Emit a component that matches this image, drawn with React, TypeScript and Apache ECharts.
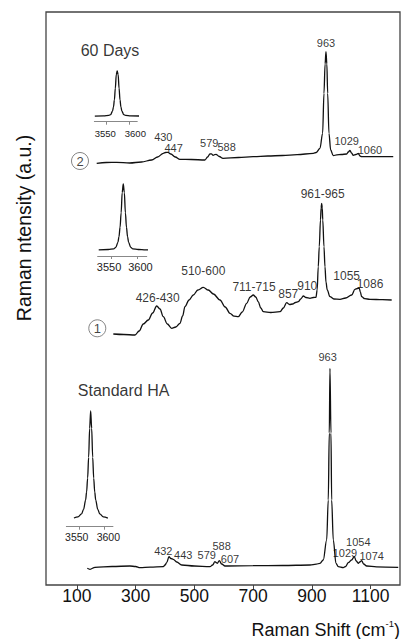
import React, { useEffect, useRef } from "react";
import * as echarts from "echarts";

// Raman shift (cm-1) as drawn, intensity in arbitrary units (trace offsets included)
const TRACE_60D: [number, number][] = [
  [167.6, 421.7], [200, 422.5], [235.6, 422.7], [280, 422], [320, 423], [354.8, 425], [375, 428],
  [394.3, 431.7], [402, 432.5], [410.3, 432.7], [420, 431], [435, 428], [451, 425.7], [490, 425.5],
  [536, 425], [545, 428], [553, 431], [558, 431.2], [564, 429.7], [569, 430.3], [573.6, 430.7],
  [585, 428.5], [597.5, 426.7], [650, 427.5], [700, 428.3], [750, 429], [800, 429.5], [850, 430.3],
  [905, 431.7], [915, 432.5], [927.6, 436.7], [936.6, 451.7], [941.2, 491.7], [945, 521], [948, 533.3],
  [951, 521], [953.8, 491.7], [958.2, 451.7], [964, 435], [972.9, 429.3], [985, 430.2], [1000, 430.5],
  [1018.5, 431], [1024, 433], [1029.7, 434.5], [1035, 432], [1041, 429.7], [1050, 430.5], [1058, 431.5],
  [1064, 429], [1069.5, 428.3], [1120, 428.3], [1177, 428.3],
];

const TRACE_1: [number, number][] = [
  [224.1, 251], [260, 250.5], [297.9, 250], [312, 254], [326.2, 261], [343.2, 265], [358, 272],
  [371.8, 279], [383, 276], [394.3, 268.3], [408, 261], [422.8, 256.7], [437, 258], [451, 261.7],
  [460, 269], [468, 278.3], [482, 285], [496.4, 290], [512, 295], [530.4, 297.7], [547.4, 295],
  [565, 291], [587.2, 285], [605, 278], [621.3, 271.7], [635, 268.8], [649.5, 268.3], [663, 273],
  [678.1, 281.7], [690, 288], [700.6, 290], [709, 288], [717.6, 283.3], [726, 277], [734.6, 273.3],
  [760, 272.5], [791.5, 273.3], [803, 277], [814.3, 282.3], [824, 280.5], [834.7, 281], [844, 282.5],
  [853.8, 283.3], [862, 286], [870.8, 289], [880, 287.5], [893.6, 286.7], [905, 287.5], [914, 287.7],
  [918, 295], [921.8, 318.3], [925.2, 338.3], [929.3, 365], [931.5, 377], [933.4, 381.7], [935.3, 377],
  [937.1, 365], [941.2, 338.3], [944.6, 318.3], [948, 303], [952.4, 295], [961.6, 288.3], [975, 286],
  [995.7, 285.7], [1015, 287], [1035.5, 290], [1046.7, 295.7], [1055, 296.5], [1061.4, 296.7],
  [1065, 293], [1069.5, 288.3], [1080, 286.3], [1097.8, 285.7], [1140, 285.3], [1171.7, 285],
];

const TRACE_STD: [number, number][] = [
  [135.6, 16.7], [144.8, 15.7], [161.8, 17.7], [220, 18.5], [280.9, 19], [300, 18.5], [314.9, 17.3],
  [350, 17.8], [394.3, 18.3], [400, 20], [405.8, 22.3], [413.7, 28.3], [420, 26.5], [428.3, 25.7],
  [440, 23], [456.9, 20], [500, 19], [553.2, 18.3], [562, 20], [570.2, 23.3], [574, 22.5], [578, 21.7],
  [584.9, 24.3], [593, 21], [604.3, 19], [700, 19.3], [800, 19.5], [893.6, 20], [915, 20.8],
  [927.6, 21.7], [938.8, 25], [950.4, 45], [955.8, 85], [959.3, 152], [961.6, 216.7], [965, 152],
  [967.4, 85], [972.9, 45], [982.1, 21.7], [990, 18.3], [1007, 17.3], [1015, 18.5], [1024, 22.3],
  [1035, 25], [1044.4, 28.3], [1051, 24], [1058, 21.7], [1063, 23], [1069.5, 24.3], [1076, 21],
  [1086.6, 19], [1120, 18.2], [1194, 17.7],
];

// OH stretch insets (3550-3600 cm-1)
const INSET_60D: [number, number][] = [
  [3526, 0.11], [3545, 0.115], [3556, 0.125], [3560, 0.14], [3564, 0.21], [3566, 0.29], [3568, 0.43],
  [3570, 0.66], [3572, 0.93], [3574, 1.0], [3576, 0.93], [3578, 0.66], [3580, 0.43], [3582, 0.29],
  [3584, 0.21], [3588, 0.14], [3592, 0.125], [3603, 0.115], [3629, 0.11],
];
const INSET_1: [number, number][] = [
  [3527, 0.085], [3545, 0.09], [3555, 0.1], [3559, 0.12], [3563, 0.19], [3565, 0.27], [3567, 0.4],
  [3569, 0.6], [3571, 0.88], [3573, 1.0], [3575, 0.88], [3577, 0.6], [3579, 0.4], [3581, 0.27],
  [3583, 0.19], [3587, 0.12], [3591, 0.1], [3601, 0.09], [3615, 0.085], [3627, 0.085],
];
const INSET_STD: [number, number][] = [
  [3540, 0.075], [3548, 0.085], [3555, 0.11], [3559, 0.15], [3563, 0.23], [3565, 0.3], [3567, 0.42],
  [3569, 0.6], [3571, 0.85], [3573, 1.0], [3575, 0.85], [3577, 0.6], [3579, 0.42], [3581, 0.3],
  [3583, 0.23], [3587, 0.15], [3591, 0.11], [3598, 0.085], [3607, 0.075],
];

const X_TICKS = [100, 300, 500, 700, 900, 1100];
const INSET_TICKS = [3550, 3600];

// peak labels [x, y, text]
const LABELS_60D: [number, number, string][] = [
  [948, 542.3, "963"], [394.3, 448.5, "430"], [429.5, 437, "447"], [550.8, 441.7, "579"],
  [610, 438.3, "588"], [1018.5, 444, "1029"], [1097.8, 435, "1060"],
];
const LABELS_1: [number, number, string][] = [
  [375.2, 287.3, "426-430"], [530.4, 314, "510-600"], [703, 298.3, "711-715"], [819.7, 290.7, "857"],
  [884.4, 299, "910"], [936.8, 391, "961-965"], [1018.5, 309, "1055"], [1097.8, 300.7, "1086"],
];
const LABELS_STD: [number, number, string][] = [
  [953.8, 228.3, "963"], [394.3, 34.3, "432"], [462.3, 30, "443"], [542, 30, "579"], [593, 39, "588"],
  [621.3, 25.7, "607"], [1012.7, 32.3, "1029"], [1058, 43.3, "1054"], [1103.6, 29, "1074"],
];
const TITLES: [number, number, string][] = [
  [212.8, 535, "60 Days"], [259.1, 195, "Standard HA"],
];
const SAMPLE_MARKS: [number, number, string][] = [
  [110.7, 424, "2"], [169.6, 256.7, "1"],
];

const FONT = "'Liberation Sans', Arial, sans-serif";

function labelSeries(data: [number, number, string][], size: number) {
  return {
    type: "scatter",
    xAxisIndex: 0,
    yAxisIndex: 0,
    symbolSize: 0,
    silent: true,
    data,
    label: {
      show: true,
      position: "inside",
      formatter: (p: any) => p.value[2],
      fontSize: size,
      fontFamily: FONT,
      color: "#000",
      textBorderWidth: 0,
      textBorderColor: "transparent",
    },
    z: 5,
  };
}

// label placement in the insets is slightly spread from the tick marks, as in the figure
function insetAxis(grid: number, size: number, margin: number, labelShift: [number, number]) {
  return {
    type: "value",
    gridIndex: grid,
    min: 3525,
    max: 3617,
    axisLine: { show: true, lineStyle: { color: "#888", width: 1 } },
    axisTick: { show: true, customValues: INSET_TICKS, length: 3, lineStyle: { color: "#888" } },
    axisLabel: {
      show: true,
      customValues: INSET_TICKS.map((t, i) => t + labelShift[i]),
      formatter: (v: number) => String(v < 3575 ? INSET_TICKS[0] : INSET_TICKS[1]),
      hideOverlap: false,
      fontSize: size,
      fontFamily: FONT,
      color: "#222",
      margin,
    },
    splitLine: { show: false },
  };
}

export default function App() {
  const ref = useRef<HTMLDivElement>(null);
  useEffect(() => {
    if (!ref.current) return;
    const chart = echarts.init(ref.current, null, { renderer: "svg" });
    const lineStyle = { color: "#111", width: 1.3 };
    const traceBase = { type: "line", showSymbol: false, lineStyle, silent: true, smooth: 0.35, smoothMonotone: "x" };
    chart.setOption({
      animation: false,
      backgroundColor: "#fff",
      grid: [
        { left: 46, top: 12, width: 354, height: 573, show: true, borderColor: "#444", borderWidth: 1.3, backgroundColor: "transparent" },
        { left: 94.35, top: 71, width: 42.9, height: 50.7 },
        { left: 97.65, top: 184, width: 49.1, height: 72 },
        { left: 66.35, top: 411, width: 46.6, height: 115.7 },
      ],
      xAxis: [
        {
          type: "value",
          gridIndex: 0,
          min: -5,
          max: 1200,
          axisLine: { show: false },
          axisTick: { show: true, customValues: X_TICKS, length: 4, lineStyle: { color: "#444", width: 1 } },
          axisLabel: {
            show: true,
            customValues: X_TICKS,
            formatter: (v: number) => String(v),
            hideOverlap: false,
            fontSize: 17.5,
            fontFamily: FONT,
            color: "#111",
            margin: 2,
          },
          splitLine: { show: false },
        },
        insetAxis(1, 9.5, 7, [-1.5, 12.9]),
        insetAxis(2, 11, 5, [-3.7, 5.2]),
        insetAxis(3, 10.5, 4.5, [-4.5, 7.9]),
      ],
      yAxis: [
        { type: "value", gridIndex: 0, min: 0, max: 573, show: false, splitLine: { show: false } },
        { type: "value", gridIndex: 1, min: 0, max: 1, show: false, splitLine: { show: false } },
        { type: "value", gridIndex: 2, min: 0, max: 1, show: false, splitLine: { show: false } },
        { type: "value", gridIndex: 3, min: 0, max: 1, show: false, splitLine: { show: false } },
      ],
      series: [
        { ...traceBase, xAxisIndex: 0, yAxisIndex: 0, data: TRACE_60D },
        { ...traceBase, xAxisIndex: 0, yAxisIndex: 0, data: TRACE_1 },
        { ...traceBase, xAxisIndex: 0, yAxisIndex: 0, data: TRACE_STD },
        { ...traceBase, xAxisIndex: 1, yAxisIndex: 1, data: INSET_60D, clip: false },
        { ...traceBase, xAxisIndex: 2, yAxisIndex: 2, data: INSET_1, clip: false },
        { ...traceBase, xAxisIndex: 3, yAxisIndex: 3, data: INSET_STD, clip: false },
        labelSeries(LABELS_60D, 11),
        labelSeries(LABELS_1, 12),
        labelSeries(LABELS_STD, 11),
        labelSeries(TITLES, 16),
        {
          type: "scatter",
          xAxisIndex: 0,
          yAxisIndex: 0,
          symbol: "circle",
          symbolSize: 17,
          silent: true,
          itemStyle: { color: "#fff", borderColor: "#555", borderWidth: 0.9 },
          data: SAMPLE_MARKS,
          label: {
            show: true,
            position: "inside",
            formatter: (p: any) => p.value[2],
            fontSize: 13,
            fontFamily: FONT,
            color: "#111",
            textBorderWidth: 0,
            textBorderColor: "transparent",
          },
          z: 6,
        },
      ],
      graphic: [
        {
          type: "text",
          x: 24,
          y: 228,
          rotation: Math.PI / 2,
          style: {
            text: "Raman ntensity (a.u.)",
            font: `19.5px ${FONT}`,
            fill: "#111",
            align: "center",
            verticalAlign: "middle",
          },
        },
        {
          type: "text",
          right: 10,
          top: 618,
          style: {
            text: "{a|Raman Shift (cm}{s|-1}{a|)}",
            rich: {
              a: { fontSize: 18, fontFamily: FONT, fill: "#111", color: "#111", verticalAlign: "bottom", lineHeight: 21 },
              s: { fontSize: 9.5, fontFamily: FONT, fill: "#111", color: "#111", verticalAlign: "top", lineHeight: 21 },
            },
          },
        },
      ],
    });
    return () => chart.dispose();
  }, []);
  return <div ref={ref} style={{ width: 410, height: 639, position: "absolute", left: 0, top: 0 }} />;
}
